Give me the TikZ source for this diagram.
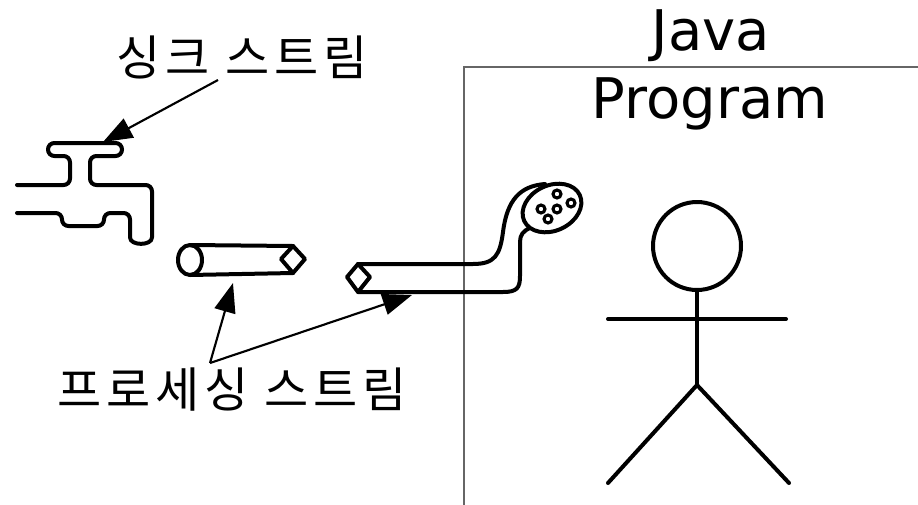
\documentclass[tikz,border=0pt]{standalone}
\usepackage{fontspec}
\newfontfamily\hangul[LetterSpace=10]{Noto Sans CJK KR}
\newfontfamily\latinsans{DejaVu Sans}
\usetikzlibrary{arrows.meta}
\tikzset{
    outline/.style={
           line width=3pt,
           line join=round,
           line cap=round,
           },
    pointer/.style={
           -{Triangle[length=22pt,width=16pt]},
           line width=1.6pt,
           },
    hangtext/.style={
           font=\hangul\fontsize{36}{40}\selectfont,
           inner sep=0pt,
           },
    javatext/.style={
           font=\latinsans\fontsize{42}{48}\selectfont,
           inner sep=0pt,
           },
}

\begin{document}
\begin{tikzpicture}[x=0.75pt,y=-0.75pt]
	\useasboundingbox (0,0) rectangle (918,504);

	%program frame
	\draw[black!60, line width=0.9pt] (464,510) -- (464,67) -- (925,67);
	\node[javatext, anchor=base] (java) at (711,50) {Java};
	\node[javatext, anchor=base] (program) at (710,118) {Program};

	%labels
	\node[hangtext] (sink) at (242,57) {싱크 스트림};
	\node[hangtext] (proc) at (232,390) {프로세싱 스트림};

	%faucet
	\draw[outline, rounded corners=4.8pt] (17,185) -- (70,185) -- (70,156) -- (48,156) -- (48,143)
		-- (122,143) -- (122,156) -- (90,156) -- (90,185) -- (152,185) -- (152,231)
		.. controls (152,246) and (130,246) .. (130,231) -- (130,213) -- (104,213) -- (104,226)
		-- (62,226) -- (62,213) -- (17,213);

	%short pipe
	\draw[outline] (190,260) ellipse [x radius=9pt, y radius=11.25pt];
	\draw[outline] (190,245) -- (293,246) -- (305,259) -- (293,273) -- (190,275);
	\draw[outline] (293,246) -- (281,259) -- (293,273);

	%long pipe with shower head
	\draw[outline] (358,264) -- (370,277) -- (358,292) -- (347,277) -- cycle;
	\draw[outline] (358,264) -- (473,264) .. controls (495,264) and (500,255) .. (503,232)
		.. controls (507,200) and (520,186) .. (545,184);
	\draw[outline] (358,292) -- (503,292) .. controls (517,292) and (520,288) .. (520,276)
		-- (520,242) .. controls (520,235) and (523,231) .. (530,228);
	\draw[outline, fill=white] (552,208) ellipse [x radius=23pt, y radius=17pt, rotate=25];
	\foreach \p in {(557,194),(541,209),(557,209),(571,203),(548,219)}
		\draw[line width=2.3pt] \p circle[radius=3pt];

	%stick figure
	\node[outline, draw, circle, minimum size=66pt, inner sep=0pt] (head) at (697,246) {};
	\coordinate (hip) at (697,385);
	\coordinate (lhand) at (608,319);
	\coordinate (rhand) at (786,319);
	\coordinate (lfoot) at (608,483);
	\coordinate (rfoot) at (789,483);
	\draw[outline] (head.south) -- (hip);
	\draw[outline] (lhand) -- (rhand);
	\draw[outline] (lfoot) -- (hip) -- (rfoot);

	%ARROWS
	\coordinate (sinkfoot) at (218,80);
	\coordinate (procfoot) at (210,363);
	\coordinate (tap) at (103,142);
	\coordinate (shortpipe) at (233,283);
	\coordinate (longpipe) at (412,295);
	\draw[pointer] (sinkfoot) -- (tap);
	\draw[pointer] (procfoot) -- (shortpipe);
	\draw[pointer] (procfoot) -- (longpipe);
\end{tikzpicture}
\end{document}
